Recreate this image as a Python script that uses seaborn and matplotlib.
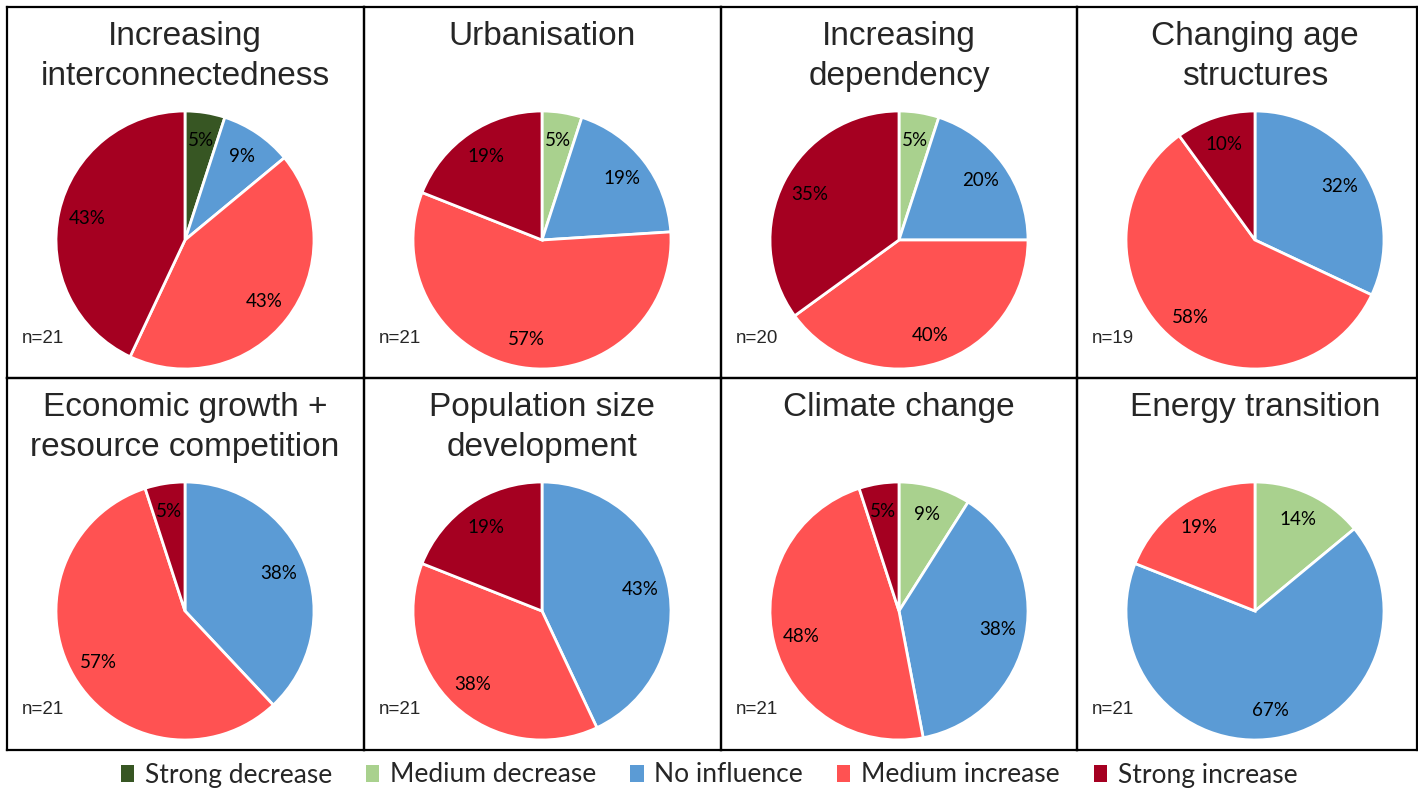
import matplotlib
matplotlib.use("Agg")
import matplotlib.pyplot as plt
import seaborn as sns
from matplotlib.patches import Patch

# data (percent shares, order: strong dec, medium dec, no influence, medium inc, strong inc)
categories = ["Strong decrease", "Medium decrease", "No influence", "Medium increase", "Strong increase"]
titles = ["Increasing\ninterconnectedness", "Urbanisation", "Increasing\ndependency",
          "Changing age\nstructures", "Economic growth +\nresource competition",
          "Population size\ndevelopment", "Climate change", "Energy transition"]
n_resp = [21, 21, 20, 19, 21, 21, 21, 21]
interconnect = [5, 0, 9, 43, 43]
urbanisation = [0, 5, 19, 57, 19]
dependency = [0, 5, 20, 40, 35]
age_struct = [0, 0, 32, 58, 10]
econ_growth = [0, 0, 38, 57, 5]
population = [0, 0, 43, 38, 19]
climate = [0, 9, 38, 48, 5]
energy = [0, 14, 67, 19, 0]
shares = [interconnect, urbanisation, dependency, age_struct,
          econ_growth, population, climate, energy]

sns.set_theme(style="white")
colors = sns.color_palette(["#375623", "#A9D18E", "#5B9BD5", "#FF5252", "#A50021"])

W, H = 1418, 790
fig = plt.figure(figsize=(W / 100, H / 100), dpi=100)

col_x = [7, 364, 721, 1077, 1417]
row_y = [7, 378, 750]
R = 129

for i, (ttl, vals, n) in enumerate(zip(titles, shares, n_resp)):
    r, c = divmod(i, 4)
    x0, x1 = col_x[c], col_x[c + 1]
    y0, y1 = row_y[r], row_y[r + 1]
    frame = fig.add_axes([x0 / W, 1 - y1 / H, (x1 - x0) / W, (y1 - y0) / H])
    frame.set_xticks([])
    frame.set_yticks([])
    for s in frame.spines.values():
        s.set_color("black")
        s.set_linewidth(1.6)
        s.set_visible(True)
    frame.patch.set_alpha(0)
    cx = x0 + 178
    fig.text(cx / W, 1 - (y0 + 14) / H, ttl, ha="center", va="top",
             fontsize=24, family="Liberation Sans", linespacing=1.36)
    fig.text((x0 + 15) / W, 1 - (y0 + 331) / H, f"n={n}", ha="left", va="center",
             fontsize=13.5, family="Liberation Sans")
    cy = y0 + 233
    ax = fig.add_axes([(cx - R) / W, 1 - (cy + R) / H, 2 * R / W, 2 * R / H])
    keep = [k for k, v in enumerate(vals) if v > 0]
    ax.pie([vals[k] for k in keep], colors=[colors[k] for k in keep],
           startangle=90, counterclock=False, autopct="%.0f%%", pctdistance=0.78,
           radius=1.0, wedgeprops={"edgecolor": "white", "linewidth": 2},
           textprops={"fontsize": 13.5, "family": "Lato", "color": "black"})
    ax.set_xlim(-1.0, 1.0)
    ax.set_ylim(-1.0, 1.0)
    ax.set_aspect("equal")

handles = [Patch(facecolor=colors[k], edgecolor="none") for k in range(5)]
fig.legend(handles, categories, loc="center", bbox_to_anchor=(0.5, 1 - 775 / H), ncol=5,
           frameon=False, prop={"family": "Lato", "size": 19}, handlelength=0.5,
           handleheight=0.6, handletextpad=0.4, columnspacing=1.3)

fig.savefig("out.png", dpi=100)
